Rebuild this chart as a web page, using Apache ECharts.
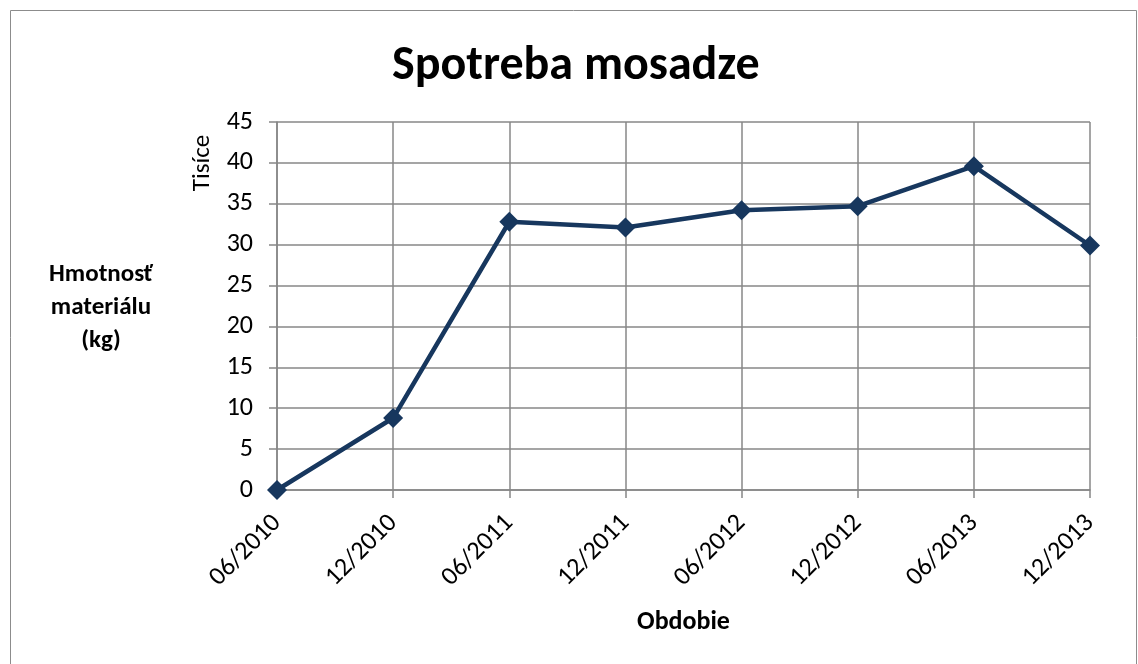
<!DOCTYPE html>
<html>
<head>
<meta charset="utf-8">
<script src="https://cdn.jsdelivr.net/npm/echarts@6/dist/echarts.min.js"></script>
<style>
  html, body { margin: 0; padding: 0; background: #fff; }
  #chart { width: 1138px; height: 664px; }
</style>
</head>
<body>
<div id="chart"></div>
<script>
var periods = ['06/2010', '12/2010', '06/2011', '12/2011', '06/2012', '12/2012', '06/2013', '12/2013']
var consumption = [0, 8.8, 32.8, 32.1, 34.2, 34.7, 39.6, 29.9]
var font = 'Carlito, Lato, "Liberation Sans", sans-serif'

var chart = echarts.init(document.getElementById('chart'))
chart.setOption({
  animation: false,
  title: {
    text: 'Spotreba mosadze',
    left: 387,
    top: 38,
    textStyle: { fontFamily: font, fontSize: 48, fontWeight: 'bold', color: '#000' }
  },
  graphic: [
    {
      type: 'rect',
      shape: { x: 10.5, y: 10.5, width: 1126, height: 660 },
      style: { fill: 'none', stroke: '#8c8c8c', lineWidth: 1 }
    },
    {
      type: 'text',
      x: 101, y: 308,
      style: {
        text: 'Hmotnosť\nmateriálu\n(kg)',
        fontFamily: font, fontSize: 25, fontWeight: 'bold',
        fill: '#000', align: 'center', verticalAlign: 'middle', lineHeight: 33
      }
    },
    {
      type: 'text',
      x: 203, y: 163, rotation: Math.PI / 2,
      style: {
        text: 'Tisíce', fontFamily: font, fontSize: 25,
        fill: '#000', align: 'center', verticalAlign: 'middle'
      }
    }
  ],
  grid: { left: 277, top: 122, width: 813, height: 368 },
  xAxis: {
    type: 'category',
    data: periods,
    boundaryGap: false,
    name: 'Obdobie',
    nameLocation: 'middle',
    nameGap: 119,
    nameTextStyle: { fontFamily: font, fontSize: 26, fontWeight: 'bold', color: '#000' },
    axisLine: { lineStyle: { color: '#878787', width: 1.5 } },
    axisTick: { show: true, length: 8, lineStyle: { color: '#878787', width: 1.5 } },
    axisLabel: { rotate: 45, margin: 29, fontFamily: font, fontSize: 26, color: '#000' },
    splitLine: { show: true, lineStyle: { color: '#878787', width: 1.5 } }
  },
  yAxis: {
    type: 'value',
    min: 0,
    max: 45,
    interval: 5,
    axisLine: { show: true, lineStyle: { color: '#878787', width: 1.5 } },
    axisTick: { show: true, length: 8, lineStyle: { color: '#878787', width: 1.5 } },
    axisLabel: { margin: 24, fontFamily: font, fontSize: 26, color: '#000' },
    splitLine: { show: true, lineStyle: { color: '#878787', width: 1.5 } }
  },
  series: [{
    type: 'line',
    data: consumption,
    symbol: 'diamond',
    symbolSize: 20,
    lineStyle: { color: '#17375E', width: 4.5 },
    itemStyle: { color: '#17375E' }
  }]
})
</script>
</body>
</html>
